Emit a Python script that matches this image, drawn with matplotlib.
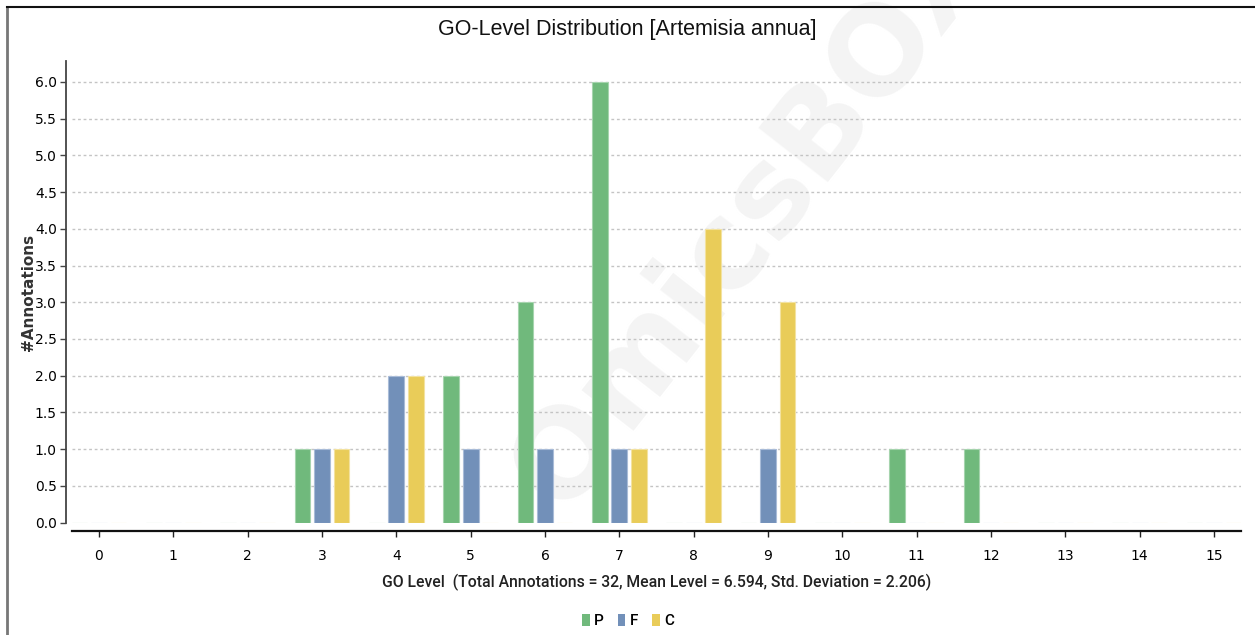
import matplotlib
matplotlib.use("Agg")
import matplotlib.pyplot as plt
from matplotlib.lines import Line2D
from matplotlib.patches import Patch
import numpy as np

# GO level categories and annotation counts per ontology
levels = list(range(16))
level_labels = [str(v) for v in levels]
p_counts = [0, 0, 0, 1, 0, 2, 3, 6, 0, 0, 0, 1, 1, 0, 0, 0]
f_counts = [0, 0, 0, 1, 2, 1, 1, 1, 0, 1, 0, 0, 0, 0, 0, 0]
c_counts = [0, 0, 0, 1, 2, 0, 0, 1, 4, 3, 0, 0, 0, 0, 0, 0]
series_names = ["P", "F", "C"]
series_colors = ["#70b97c", "#7290b9", "#e9cc59"]
edge_colors = ["#a6d4ae", "#a9bcd8", "#f3e2a0"]
y_ticks = [0.0, 0.5, 1.0, 1.5, 2.0, 2.5, 3.0, 3.5, 4.0, 4.5, 5.0, 5.5, 6.0]

title = "GO-Level Distribution [Artemisia annua]"
x_title = "GO Level  (Total Annotations = 32, Mean Level = 6.594, Std. Deviation = 2.206)"
y_title = "#Annotations"

TICKFONT = ["Roboto", "DejaVu Sans"]
TITLEFONT = ["Liberation Sans", "DejaVu Sans"]

W, H = 1255, 635
fig = plt.figure(figsize=(W / 100, H / 100), dpi=100)
fig.patch.set_facecolor("white")

# faint brand watermark behind the plot
fig.text(0.60, 0.66, "OmicsBOX", rotation=52, fontsize=88, color="#f4f4f4",
         ha="center", va="center", fontweight="bold", zorder=-5,
         family=["DejaVu Sans"])

ax = fig.add_axes([72 / W, 1 - 522.5 / H, (1241 - 72) / W, (522.5 - 61) / H])
ax.patch.set_alpha(0)

x = np.arange(len(levels))
bar_w = 0.211
step = 0.264
for i, (vals, col, ecol) in enumerate(zip([p_counts, f_counts, c_counts],
                                          series_colors, edge_colors)):
    ax.bar(x + (i - 1) * step, vals, width=bar_w, color=col,
           edgecolor=ecol, linewidth=0.8, zorder=3)

ax.set_xlim(-0.363, 15.363)
ax.set_ylim(0, 6.286)

# dotted horizontal grid
for yv in y_ticks[1:]:
    ax.axhline(yv, color="#c4c4c4", linestyle=(0, (2, 2)), linewidth=1.0, zorder=1)

ax.set_xticks(x)
ax.set_xticklabels(level_labels, family=TICKFONT, fontsize=9.5, color="#222222")
ax.set_yticks(y_ticks)
ax.set_yticklabels([f"{v:.1f}" for v in y_ticks], family=TICKFONT, fontsize=8.5,
                   color="#222222")
ax.tick_params(axis="y", direction="out", length=4, width=1, pad=3, color="#444444")
ax.tick_params(axis="x", direction="out", length=4, width=1, pad=9, color="#222222")

for s in ["top", "right"]:
    ax.spines[s].set_visible(False)
ax.spines["left"].set_position(("outward", 4))
ax.spines["bottom"].set_position(("outward", 6))
ax.spines["left"].set_color("#444444")
ax.spines["left"].set_linewidth(1.3)
ax.spines["bottom"].set_color("#111111")
ax.spines["bottom"].set_linewidth(1.6)

fig.text(0.5, 1 - 29 / H, title, ha="center", va="center", fontsize=15.5,
         family=TITLEFONT, color="#111111")
fig.text(656.5 / W, 1 - 582 / H, x_title, ha="center", va="center",
         fontsize=11.3, family=TICKFONT, fontweight="medium", color="#222222")
fig.text(29 / W, 1 - 292 / H, y_title, ha="center", va="center", rotation=90,
         fontsize=11, fontweight="bold", color="#333333", family=["DejaVu Sans"])

handles = [Patch(facecolor=c, edgecolor="none") for c in series_colors]
leg = fig.legend(handles, series_names, loc="center", bbox_to_anchor=(628 / W, 1 - 621 / H),
                 ncol=3, frameon=False, handlelength=0.5, handleheight=0.8,
                 handletextpad=0.3, columnspacing=0.9,
                 prop={"family": TICKFONT, "size": 11, "weight": "medium"})

# chart border (left and top edges)
fig.add_artist(Line2D([7 / W, 7 / W], [0, 1 - 7 / H], color="#777777", linewidth=2))
fig.add_artist(Line2D([7 / W, 1], [1 - 7 / H, 1 - 7 / H], color="#111111", linewidth=1.5))

fig.savefig("out.png", dpi=100)
